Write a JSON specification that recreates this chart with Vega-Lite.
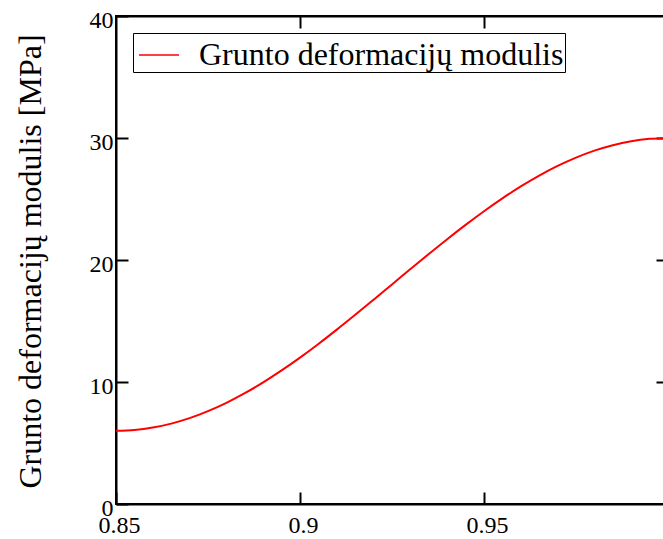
{
  "$schema": "https://vega.github.io/schema/vega-lite/v6.json",
  "autosize": {"type": "none"},
  "width": 552,
  "height": 488,
  "padding": {"left": 116, "top": 16, "right": 0, "bottom": 35},
  "background": "white",
  "config": {
    "font": "Liberation Serif",
    "view": {"stroke": "black", "strokeWidth": 2},
    "axis": {
      "grid": false,
      "domainColor": "black",
      "domainWidth": 2,
      "tickColor": "black",
      "tickWidth": 2,
      "tickSize": -12,
      "labelColor": "black",
      "labelFont": "Liberation Serif",
      "labelFontSize": 24,
      "titleFont": "Liberation Serif",
      "titleFontSize": 32,
      "titleFontWeight": "normal",
      "titleColor": "black"
    },
    "legend": {"labelFont": "Liberation Serif"}
  },
  "data": {
    "values": [
      {"x": 0.850, "E": 6.000, "series": "Grunto deformacijų modulis"},
      {"x": 0.855, "E": 6.066, "series": "Grunto deformacijų modulis"},
      {"x": 0.860, "E": 6.262, "series": "Grunto deformacijų modulis"},
      {"x": 0.865, "E": 6.587, "series": "Grunto deformacijų modulis"},
      {"x": 0.870, "E": 7.037, "series": "Grunto deformacijų modulis"},
      {"x": 0.875, "E": 7.608, "series": "Grunto deformacijų modulis"},
      {"x": 0.880, "E": 8.292, "series": "Grunto deformacijų modulis"},
      {"x": 0.885, "E": 9.082, "series": "Grunto deformacijų modulis"},
      {"x": 0.890, "E": 9.970, "series": "Grunto deformacijų modulis"},
      {"x": 0.895, "E": 10.947, "series": "Grunto deformacijų modulis"},
      {"x": 0.900, "E": 12.000, "series": "Grunto deformacijų modulis"},
      {"x": 0.905, "E": 13.119, "series": "Grunto deformacijų modulis"},
      {"x": 0.910, "E": 14.292, "series": "Grunto deformacijų modulis"},
      {"x": 0.915, "E": 15.505, "series": "Grunto deformacijų modulis"},
      {"x": 0.920, "E": 16.746, "series": "Grunto deformacijų modulis"},
      {"x": 0.925, "E": 18.000, "series": "Grunto deformacijų modulis"},
      {"x": 0.930, "E": 19.254, "series": "Grunto deformacijų modulis"},
      {"x": 0.935, "E": 20.495, "series": "Grunto deformacijų modulis"},
      {"x": 0.940, "E": 21.708, "series": "Grunto deformacijų modulis"},
      {"x": 0.945, "E": 22.881, "series": "Grunto deformacijų modulis"},
      {"x": 0.950, "E": 24.000, "series": "Grunto deformacijų modulis"},
      {"x": 0.955, "E": 25.053, "series": "Grunto deformacijų modulis"},
      {"x": 0.960, "E": 26.030, "series": "Grunto deformacijų modulis"},
      {"x": 0.965, "E": 26.918, "series": "Grunto deformacijų modulis"},
      {"x": 0.970, "E": 27.708, "series": "Grunto deformacijų modulis"},
      {"x": 0.975, "E": 28.392, "series": "Grunto deformacijų modulis"},
      {"x": 0.980, "E": 28.963, "series": "Grunto deformacijų modulis"},
      {"x": 0.985, "E": 29.413, "series": "Grunto deformacijų modulis"},
      {"x": 0.990, "E": 29.738, "series": "Grunto deformacijų modulis"},
      {"x": 0.995, "E": 29.934, "series": "Grunto deformacijų modulis"},
      {"x": 1.000, "E": 30.000, "series": "Grunto deformacijų modulis"}
    ]
  },
  "layer": [
    {
      "mark": {"type": "line", "strokeWidth": 2, "interpolate": "monotone"},
      "encoding": {
        "x": {
          "field": "x", "type": "quantitative",
          "scale": {"domain": [0.85, 1.0], "nice": false, "zero": false},
          "axis": {"orient": "bottom", "title": null, "values": [0.85, 0.9, 0.95], "format": "~g", "labelPadding": 21, "labelOffset": 3, "labelFlush": false, "labelOverlap": false}
        },
        "y": {
          "field": "E", "type": "quantitative",
          "scale": {"domain": [0, 40], "nice": false},
          "axis": {"orient": "left", "title": "Grunto deformacijų modulis [MPa]", "values": [0, 10, 20, 30, 40], "labelPadding": 15, "labelOffset": 4, "labelFlush": false, "labelOverlap": false, "titleX": -86, "titleY": 245, "titleAngle": -90, "titleAlign": "center", "titleBaseline": "middle"}
        },
        "color": {
          "field": "series", "type": "nominal",
          "scale": {"domain": ["Grunto deformacijų modulis"], "range": ["#ff0000"]},
          "legend": {
            "orient": "none", "legendX": 17, "legendY": 17,
            "title": null,
            "strokeColor": "black",
            "fillColor": "white",
            "padding": 1,
            "symbolType": "stroke",
            "symbolSize": 1600,
            "symbolStrokeWidth": 1.5,
            "symbolOffset": 4,
            "labelFontSize": 32,
            "labelColor": "black",
            "labelOffset": 19,
            "labelLimit": 600,
            "labelExpr": "datum.label + '\u2003'"
          }
        }
      }
    },
    {
      "mark": {"type": "line", "strokeOpacity": 0},
      "encoding": {
        "x": {
          "field": "x", "type": "quantitative",
          "axis": {"orient": "top", "title": null, "labels": false, "values": [0.9, 0.95]}
        },
        "y": {
          "field": "E", "type": "quantitative",
          "axis": {"orient": "right", "title": null, "labels": false, "values": [10, 20, 30]}
        }
      }
    }
  ],
  "resolve": {"axis": {"x": "independent", "y": "independent"}}
}
